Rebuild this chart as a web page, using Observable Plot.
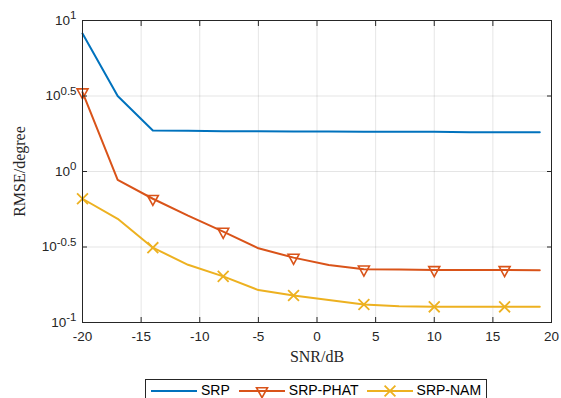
<!DOCTYPE html>
<html><head><meta charset="utf-8">
<script src="https://cdn.jsdelivr.net/npm/d3@7"></script>
<script src="https://cdn.jsdelivr.net/npm/@observablehq/plot@0.6"></script>
<style>
body{margin:0;background:#fff;}
#wrap{position:relative;width:561px;height:398px;overflow:hidden;background:#fff;}
#legend{position:absolute;left:145px;top:379px;width:342px;height:24px;border:1px solid #262626;background:#fff;display:flex;align-items:flex-start;padding-top:2px;box-sizing:border-box;font:14px "Liberation Sans",Arial,sans-serif;color:#000;}
#legend .item{display:flex;align-items:center;height:17px;line-height:17px;}
#legend svg{display:block;}
</style></head><body><div id="wrap"><div id="chart"></div><div id="legend"></div></div>
<script>
// Data
const snr = [-20, -17, -14, -11, -8, -5, -2, 1, 4, 7, 10, 13, 16, 19];
const srp = [8.2, 3.16, 1.87, 1.86, 1.85, 1.85, 1.84, 1.84, 1.83, 1.83, 1.83, 1.82, 1.82, 1.82];
const srpPhat = [3.35, 0.88, 0.66, 0.51, 0.40, 0.31, 0.269, 0.240, 0.225, 0.224, 0.223, 0.223, 0.223, 0.222];
const srpNam = [0.66, 0.486, 0.313, 0.241, 0.202, 0.164, 0.151, 0.141, 0.1315, 0.128, 0.127, 0.127, 0.127, 0.127];
const seriesNames = ["SRP", "SRP-PHAT", "SRP-NAM"];
const seriesColors = ["#0072BD", "#D95319", "#EDB120"];
const xTicks = [-20, -15, -10, -5, 0, 5, 10, 15, 20];
const yTickExponents = [-1, -0.5, 0, 0.5, 1];

const yTicks = yTickExponents.map(e => Math.pow(10, e));
const rows = snr.map((x, i) => ({x, srp: srp[i], phat: srpPhat[i], nam: srpNam[i], i}));
const marked = rows.filter(d => d.i % 2 === 0);

const triDown = {
  draw(ctx, size) {
    const s = Math.sqrt(size / Math.PI) / 5;
    ctx.moveTo(-5.5 * s, -3.3 * s);
    ctx.lineTo(5.5 * s, -3.3 * s);
    ctx.lineTo(0, 6.7 * s);
    ctx.closePath();
  }
};

const SANS = "Liberation Sans, Arial, sans-serif";
const SERIF = "Liberation Serif, Times New Roman, serif";
const W = 561, H = 376;
const blank = () => "";
const plot = Plot.plot({
  width: W, height: H,
  marginTop: 20, marginLeft: 82, marginRight: 10, marginBottom: H - 322,
  x: {domain: [-20, 20]},
  y: {type: "log", domain: [0.1, 10]},
  style: {fontFamily: SANS, fontSize: "13px", color: "#262626", background: "#fff"},
  marks: [
    Plot.gridX(xTicks, {stroke: "#000", strokeOpacity: 0.1}),
    Plot.gridY(yTicks, {stroke: "#000", strokeOpacity: 0.1}),
    Plot.line(rows, {x: "x", y: "srp", stroke: seriesColors[0], strokeWidth: 2}),
    Plot.line(rows, {x: "x", y: "phat", stroke: seriesColors[1], strokeWidth: 2}),
    Plot.line(rows, {x: "x", y: "nam", stroke: seriesColors[2], strokeWidth: 2}),
    Plot.dot(marked, {x: "x", y: "phat", symbol: triDown, r: 5, stroke: seriesColors[1], strokeWidth: 1.6, fill: "none"}),
    Plot.dot(marked, {x: "x", y: "nam", symbol: "times", r: 5, stroke: seriesColors[2], strokeWidth: 1.8}),
    // tick labels
    Plot.axisX(xTicks, {anchor: "bottom", tickSize: 0, tickPadding: 9, tickFormat: d => String(d), label: null, fontFamily: SANS, fontSize: 13.5}),
    Plot.axisY(yTicks, {anchor: "left", tickSize: 0, tickPadding: 6, tickFormat: d => "10^" + (Math.round(Math.log10(d) * 2) / 2), label: null, fontFamily: SANS, fontSize: 13.5}),
    // inward ticks on all four sides
    Plot.axisX(xTicks, {anchor: "bottom", tickSize: -5, tickFormat: blank, label: null, stroke: "#262626"}),
    Plot.axisX(xTicks, {anchor: "top", tickSize: -5, tickFormat: blank, label: null, stroke: "#262626"}),
    Plot.axisY(yTicks, {anchor: "left", tickSize: -5, tickFormat: blank, label: null, stroke: "#262626"}),
    Plot.axisY(yTicks, {anchor: "right", tickSize: -5, tickFormat: blank, label: null, stroke: "#262626"}),
    Plot.frame({stroke: "#262626"}),
    Plot.text(["SNR/dB"], {frameAnchor: "bottom", dy: 34, lineAnchor: "middle", fontFamily: SERIF, fontSize: 16, fill: "#262626"}),
    Plot.text(["RMSE/degree"], {frameAnchor: "left", dx: -63, rotate: -90, lineAnchor: "middle", textAnchor: "middle", fontFamily: SERIF, fontSize: 16, fill: "#262626"})
  ]
});

// superscript exponents on y tick labels
plot.querySelectorAll("text").forEach(t => {
  const s = t.textContent;
  if (s.startsWith("10^")) {
    const e = s.slice(3);
    t.textContent = "10";
    const ts = document.createElementNS("http://www.w3.org/2000/svg", "tspan");
    ts.setAttribute("dy", "-0.5em");
    ts.setAttribute("font-size", "11.5px");
    ts.textContent = e;
    t.appendChild(ts);
  }
});
document.getElementById("chart").appendChild(plot);

// legend
const legend = document.getElementById("legend");
const swatch = (i) => {
  let m = "";
  if (i === 1) m = `<path d="M17.5,4.7L28.5,4.7L23,14.7Z" fill="none" stroke="${seriesColors[1]}" stroke-width="1.6"/>`;
  if (i === 2) m = `<path d="M17.6,2.6L28.4,13.4M28.4,2.6L17.6,13.4" stroke="${seriesColors[2]}" stroke-width="1.8"/>`;
  return `<svg width="46" height="16"><line x1="0" x2="46" y1="8" y2="8" stroke="${seriesColors[i]}" stroke-width="2"/>${m}</svg>`;
};
const pads = [[5, 10], [9, 8], [8, 0]];
seriesNames.forEach((n, i) => {
  const d = document.createElement("div");
  d.className = "item";
  d.style.marginLeft = pads[i][0] + "px";
  d.innerHTML = swatch(i) + `<span style="margin-left:4px">${n}</span>`;
  legend.appendChild(d);
});
</script>
</body></html>
